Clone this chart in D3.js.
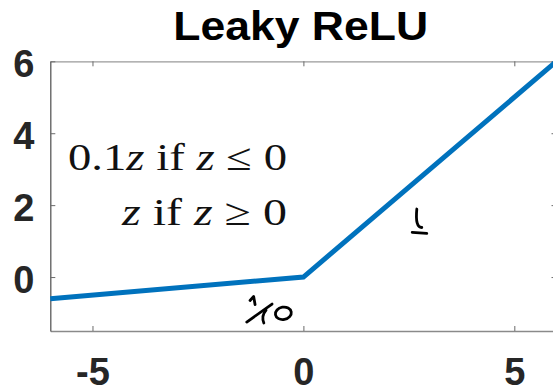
<!DOCTYPE html>
<html>
<head>
<meta charset="utf-8">
<script src="https://cdn.jsdelivr.net/npm/d3@7"></script>
<style>
  html, body { margin: 0; padding: 0; background: #fff; overflow: hidden; }
  svg { display: block; }
</style>
</head>
<body>
<script>
// Leaky ReLU: f(z) = 0.1z for z <= 0, z for z >= 0
const zValues = [-6, 0, 6];
const activationValues = [-0.6, 0, 6];
const xTickValues = [-5, 0, 5];
const yTickValues = [0, 2, 4, 6];
const xDomain = [-6, 6];
const yDomain = [-1.5, 6];
const titleText = "Leaky ReLU";

const W = 553, H = 392;
const svg = d3.select("body").append("svg").attr("width", W).attr("height", H);

const x = d3.scaleLinear().domain(xDomain).range([50.3, 556.5]);
const y = d3.scaleLinear().domain(yDomain).range([331, 61.3]);

const tickFont = "'Liberation Sans', Arial, Helvetica, sans-serif";

// Box: inward ticks on all four sides
const axisB = svg.append("g").attr("transform", `translate(0,${y.range()[0]})`)
  .call(d3.axisBottom(x).tickValues(xTickValues).tickSize(-5).tickSizeOuter(0).tickPadding(27));
const axisT = svg.append("g").attr("transform", `translate(0,${y.range()[1]})`)
  .call(d3.axisTop(x).tickValues(xTickValues).tickSize(-5).tickSizeOuter(0).tickFormat(""));
const axisL = svg.append("g").attr("transform", `translate(${x.range()[0]},0)`)
  .call(d3.axisLeft(y).tickValues(yTickValues).tickSize(-5).tickSizeOuter(0).tickPadding(16));
const axisR = svg.append("g").attr("transform", `translate(${x.range()[1]},0)`)
  .call(d3.axisRight(y).tickValues(yTickValues).tickSize(-5).tickSizeOuter(0).tickFormat(""));

[axisB, axisT, axisL, axisR].forEach(g => {
  g.selectAll("text").attr("font-family", tickFont).attr("font-weight", "bold")
    .attr("font-size", 38).attr("fill", "#262626");
});
axisB.select(".domain").attr("stroke", "#8a8a8a").attr("stroke-width", 1.3);
axisT.select(".domain").attr("stroke", "#9a9a9a").attr("stroke-width", 1.3);
axisL.select(".domain").attr("stroke", "#5a5a5a").attr("stroke-width", 1.3);
axisR.select(".domain").attr("stroke", "#5a5a5a").attr("stroke-width", 1.3);
[axisB, axisT, axisL, axisR].forEach(g => g.selectAll(".tick line").attr("stroke", "#6a6a6a"));
axisL.selectAll("text").attr("dy", "0.4em");
axisB.selectAll("text").text(d => d < 0 ? "-" + Math.abs(d) : String(d));

// Activation curve
const line = d3.line().x(d => x(d)).y((d, i) => y(activationValues[i]));
svg.append("path")
  .datum(zValues)
  .attr("d", line)
  .attr("fill", "none")
  .attr("stroke", "#0072BD")
  .attr("stroke-width", 5)
  .attr("stroke-linejoin", "miter");

// Title
svg.append("text")
  .attr("x", 300.7).attr("y", 40)
  .attr("text-anchor", "middle")
  .attr("font-family", tickFont).attr("font-weight", "bold")
  .attr("font-size", 40)
  .attr("textLength", 255).attr("lengthAdjust", "spacingAndGlyphs")
  .attr("fill", "#000")
  .text(titleText);

// Piecewise definition
const mathFont = "'Liberation Serif', 'Times New Roman', serif";
function mathLine(parts, xEnd, baseline, width) {
  const t = svg.append("text")
    .attr("x", xEnd).attr("y", baseline)
    .attr("text-anchor", "end")
    .attr("font-family", mathFont).attr("font-size", 38)
    .attr("fill", "#111")
    .attr("textLength", width).attr("lengthAdjust", "spacingAndGlyphs")
    .style("white-space", "pre");
  parts.forEach(p => t.append("tspan").attr("font-style", p[1] ? "italic" : "normal").text(p[0]));
}
mathLine([["0.1", false], ["z", true], [" if ", false], ["z", true], [" \u2264 0", false]], 287, 170, 219);
mathLine([["z", true], [" if ", false], ["z", true], [" \u2265 0", false]], 287, 225, 165);

// Handwritten slope notes, anchored in data space
const ink = svg.append("g")
  .attr("fill", "none").attr("stroke", "#000")
  .attr("stroke-width", 2.8).attr("stroke-linecap", "round").attr("stroke-linejoin", "round");

const leftSlope = ink.append("g").attr("transform", `translate(${x(-0.8)},${y(-1)})`);
leftSlope.append("path").attr("d", "M-19.6,-12.5 L-16,-16.5 L-14.6,-8.5");
leftSlope.append("path").attr("d", "M-22.9,9 L2.4,-9");
leftSlope.append("path").attr("d", "M-3.6,-3 Q-8.6,3 -5.8,10");
leftSlope.append("ellipse").attr("cx", 13.7).attr("cy", 0.3).attr("rx", 8).attr("ry", 6.2)
  .attr("transform", "rotate(-10 13.7 0.3)");

const rightSlope = ink.append("g").attr("transform", `translate(${x(2.75)},${y(1.6)})`);
rightSlope.append("path").attr("d", "M-2.6,-10.5 Q-4.4,8 2.4,8");
rightSlope.append("path").attr("d", "M-7.2,12.8 L7.4,13.8");
</script>
</body>
</html>
